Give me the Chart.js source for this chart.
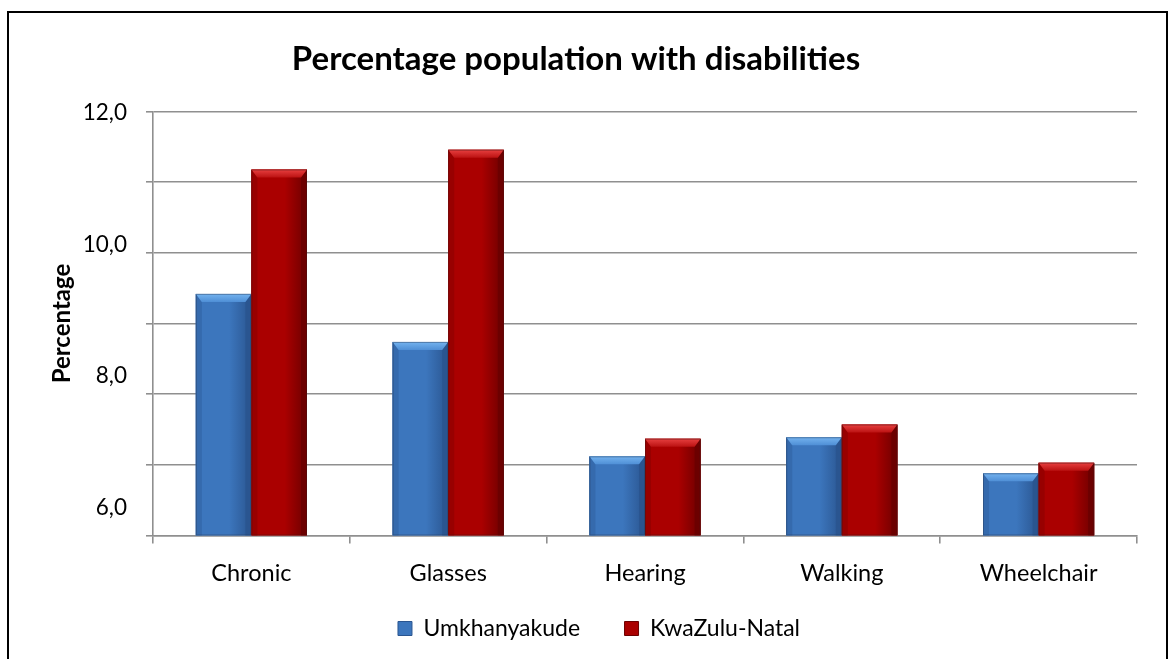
<!DOCTYPE html>
<html>
<head>
<meta charset="utf-8">
<title>Percentage population with disabilities</title>
<script src="https://cdn.jsdelivr.net/npm/chart.js@4.4.1/dist/chart.umd.min.js"></script>
<style>
  html, body { margin: 0; padding: 0; background: #fff; overflow: hidden; }
  #wrap { position: relative; width: 1169px; height: 659px; }
  #frame {
    position: absolute; left: 7px; top: 11px; width: 1157px; height: 700px;
    border: 2px solid #000; pointer-events: none;
  }
  canvas { position: absolute; left: 0; top: 0; }
</style>
</head>
<body>
<div id="wrap">
  <canvas id="chart" width="1169" height="659"></canvas>
  <div id="frame"></div>
</div>
<script>
// Disability categories and percentages per region
const categories = ['Chronic', 'Glasses', 'Hearing', 'Walking', 'Wheelchair'];
const umkhanyakude = [9.42, 8.74, 7.12, 7.39, 6.88];
const kwazuluNatal = [11.18, 11.46, 7.37, 7.57, 7.03];
const seriesNames = ['Umkhanyakude', 'KwaZulu-Natal'];
// Labelled values on the vertical axis
const axisLabelValues = [6, 8, 10, 12];

const FONT = 'Lato, "Open Sans", "Liberation Sans", sans-serif';

// Colour sets for the bevelled bars: body, top bevel, left edge, right edge
const palettes = [
  { body: '#3c76bd', light: '#74b3ef', lightEnd: '#4f8fd6', left: '#356aad', right: '#2a5590', edge: 'rgba(40,60,90,0.45)' },
  { body: '#aa0000', light: '#e84040', lightEnd: '#bb1212', left: '#980000', right: '#6c0000', edge: 'rgba(70,20,20,0.45)' }
];

// Trailing spacing after each legend entry (keeps the two entries apart)
const legendSpacing = ['\u2002'.repeat(3), '\u2002'.repeat(8)];

// Draws the bevel faces on top of each bar, using the bar geometry from Chart.js
const bevelPlugin = {
  id: 'bevel',
  afterDatasetsDraw(chart) {
    const ctx = chart.ctx;
    const area = chart.chartArea;
    ctx.save();
    ctx.beginPath();
    ctx.rect(area.left, area.top, area.right - area.left, area.bottom - area.top);
    ctx.clip();
    chart.data.datasets.forEach((ds, di) => {
      const meta = chart.getDatasetMeta(di);
      if (meta.hidden) return;
      const pal = palettes[di];
      meta.data.forEach(bar => {
        const p = bar.getProps(['x', 'y', 'base', 'width'], true);
        const l = p.x - p.width / 2, r = p.x + p.width / 2;
        const t = Math.min(p.y, p.base);
        const b = Math.min(Math.max(p.y, p.base), area.bottom);
        const d = Math.min(8, (b - t) / 2);
        const s = 6;
        // body shading, darker towards the right
        const g = ctx.createLinearGradient(l, 0, r, 0);
        g.addColorStop(0, pal.left);
        g.addColorStop(0.12, pal.body);
        g.addColorStop(0.6, pal.body);
        g.addColorStop(1, pal.right);
        ctx.fillStyle = g;
        ctx.fillRect(l, t, r - l, b - t);
        // left face
        ctx.fillStyle = pal.left;
        ctx.beginPath();
        ctx.moveTo(l, t); ctx.lineTo(l + s, t + d); ctx.lineTo(l + s, b); ctx.lineTo(l, b);
        ctx.closePath(); ctx.fill();
        // right face
        ctx.fillStyle = pal.right;
        ctx.beginPath();
        ctx.moveTo(r, t); ctx.lineTo(r - s, t + d); ctx.lineTo(r - s, b); ctx.lineTo(r, b);
        ctx.closePath(); ctx.fill();
        // top face
        const tg = ctx.createLinearGradient(0, t, 0, t + d);
        tg.addColorStop(0, pal.light);
        tg.addColorStop(1, pal.lightEnd);
        ctx.fillStyle = tg;
        ctx.beginPath();
        ctx.moveTo(l, t); ctx.lineTo(r, t); ctx.lineTo(r - s, t + d); ctx.lineTo(l + s, t + d);
        ctx.closePath(); ctx.fill();
        // outline
        ctx.strokeStyle = pal.edge;
        ctx.lineWidth = 1;
        ctx.strokeRect(l + 0.5, t + 0.5, r - l - 1, b - t - 1);
      });
    });
    ctx.restore();
  }
};

const gridColor = '#8f8f8f';

new Chart(document.getElementById('chart'), {
  type: 'bar',
  data: {
    labels: categories,
    datasets: [
      { label: seriesNames[0], data: umkhanyakude, backgroundColor: palettes[0].body, borderWidth: 0,
        categoryPercentage: 0.565, barPercentage: 1.0 },
      { label: seriesNames[1], data: kwazuluNatal, backgroundColor: palettes[1].body, borderWidth: 0,
        categoryPercentage: 0.565, barPercentage: 1.0 }
    ]
  },
  plugins: [bevelPlugin],
  options: {
    responsive: false,
    devicePixelRatio: 1,
    animation: false,
    layout: { padding: { left: 15, right: 32, top: 18, bottom: 9 } },
    scales: {
      x: {
        grid: { display: true, drawOnChartArea: false, color: gridColor, lineWidth: 1.6, tickLength: 8 },
        border: { color: gridColor, width: 1.6 },
        ticks: { color: '#000', font: { family: FONT, size: 23.5 }, padding: 16, maxRotation: 0 },
        afterFit: s => { s.height = 71.5; }
      },
      y: {
        min: 6, max: 12,
        ticks: { display: false, stepSize: 1 },
        grid: { color: gridColor, lineWidth: 1.6, tickLength: 7 },
        border: { color: gridColor, width: 1.6 },
        afterFit: s => { s.width = 7; }
      },
      yLabels: {
        position: 'left',
        weight: 1,
        min: 5.575, max: 12.023,
        afterBuildTicks: s => { s.ticks = axisLabelValues.map(v => ({ value: v })); },
        ticks: {
          color: '#000', font: { family: FONT, size: 22.5 }, padding: 19,
          callback: v => v.toFixed(1).replace('.', ',')
        },
        grid: { display: false, drawTicks: false },
        border: { display: false },
        title: { display: true, text: 'Percentage', color: '#000', padding: { top: 33, bottom: 4 },
                 font: { family: FONT, size: 24, weight: 'bold' } },
        afterFit: s => { s.width = 131; }
      }
    },
    plugins: {
      title: {
        display: true,
        text: 'Percentage population with disabilities',
        color: '#000',
        font: { family: FONT, size: 33, weight: 'bold' },
        padding: { top: 22, bottom: 32 }
      },
      legend: {
        position: 'bottom',
        fullSize: false,
        labels: {
          color: '#000',
          font: { family: FONT, size: 23 },
          boxWidth: 14, boxHeight: 14, padding: 10,
          generateLabels: chart => chart.data.datasets.map((ds, i) => ({
            text: ds.label + legendSpacing[i],
            fillStyle: palettes[i].body,
            strokeStyle: palettes[i].right,
            lineWidth: 1,
            hidden: false,
            datasetIndex: i
          }))
        }
      },
      tooltip: { enabled: false }
    }
  }
});
</script>
</body>
</html>
